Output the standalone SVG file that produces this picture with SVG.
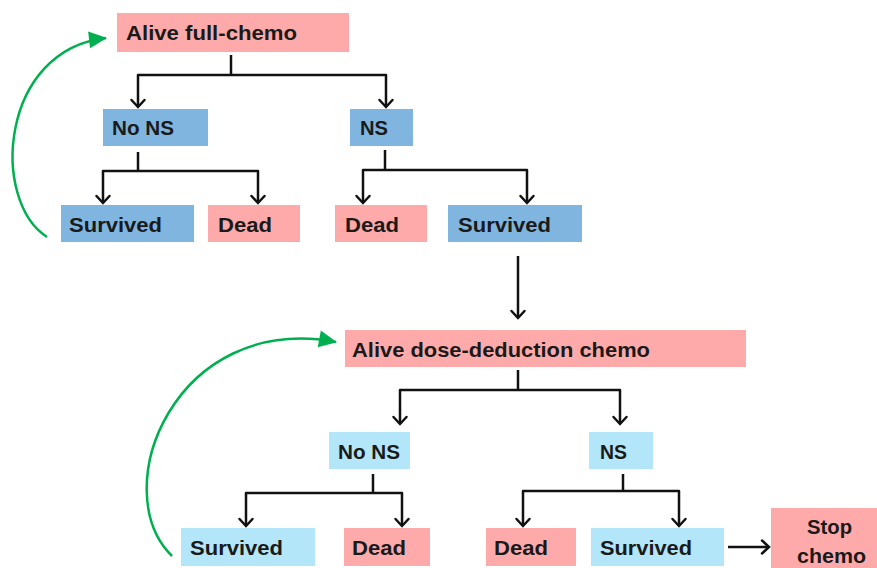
<svg xmlns="http://www.w3.org/2000/svg" width="877" height="568" viewBox="0 0 877 568">
<style>
.pink{fill:#FFAAAA}
.blue{fill:#7FB5DF}
.lblue{fill:#B2E6F8}
text{font-family:"Liberation Sans",Arial,sans-serif;font-weight:bold;font-size:21px;fill:#1a1a1a}
.c{fill:none;stroke:#111;stroke-width:2.5;stroke-linejoin:round}
.g{fill:none;stroke:#00B050;stroke-width:2.5}
</style>
<defs>
<marker id="ah" markerUnits="userSpaceOnUse" markerWidth="20" markerHeight="20" viewBox="-10 -10 20 20" refX="0" refY="0" orient="auto" overflow="visible">
<path d="M-7,-6.5 L0,0 L-7,6.5" fill="none" stroke="#111" stroke-width="2.5" stroke-linejoin="miter" stroke-linecap="round"/>
</marker>
<marker id="gh" markerUnits="userSpaceOnUse" markerWidth="30" markerHeight="30" viewBox="-20 -15 30 30" refX="0" refY="0" orient="auto" overflow="visible">
<path d="M-17,-8.5 L1,0 L-17,8.5 Z" fill="#00B050"/>
</marker>
</defs>
<rect width="877" height="568" fill="#fff"/>

<g id="connectors">
<path class="c" d="M231,55 V75"/>
<path class="c" d="M231,75 H138 V107" marker-end="url(#ah)"/>
<path class="c" d="M231,75 H386 V107" marker-end="url(#ah)"/>
<path class="c" d="M138,152 V171"/>
<path class="c" d="M138,171 H103 V203" marker-end="url(#ah)"/>
<path class="c" d="M138,171 H258 V203" marker-end="url(#ah)"/>
<path class="c" d="M385,150 V170"/>
<path class="c" d="M385,170 H363 V203" marker-end="url(#ah)"/>
<path class="c" d="M385,170 H527 V203" marker-end="url(#ah)"/>
<path class="c" d="M518,256 V318" marker-end="url(#ah)"/>
<path class="c" d="M518,370 V390"/>
<path class="c" d="M518,390 H400 V424" marker-end="url(#ah)"/>
<path class="c" d="M518,390 H620 V424" marker-end="url(#ah)"/>
<path class="c" d="M373,474 V493"/>
<path class="c" d="M373,493 H246 V526" marker-end="url(#ah)"/>
<path class="c" d="M373,493 H402 V526" marker-end="url(#ah)"/>
<path class="c" d="M623,474 V491"/>
<path class="c" d="M623,491 H523 V526" marker-end="url(#ah)"/>
<path class="c" d="M623,491 H679 V526" marker-end="url(#ah)"/>
<path class="c" d="M728,547 H769" marker-end="url(#ah)"/>
<path class="g" d="M47,237 C-10,200 0,50 106,38" marker-end="url(#gh)"/>
<path class="g" d="M172,556 C105,490 175,312 336,342" marker-end="url(#gh)"/>
</g>

<g id="alive-full">
<rect class="pink" x="117" y="13" width="232" height="39"/>
<text x="126" y="40" textLength="171" lengthAdjust="spacingAndGlyphs">Alive full-chemo</text>
</g>
<g id="no-ns-1">
<rect class="blue" x="103" y="109" width="105" height="37"/>
<text x="112" y="135" textLength="62" lengthAdjust="spacingAndGlyphs">No NS</text>
</g>
<g id="ns-1">
<rect class="blue" x="350" y="109" width="63" height="37"/>
<text x="360" y="135" textLength="28" lengthAdjust="spacingAndGlyphs">NS</text>
</g>
<g id="survived-1a">
<rect class="blue" x="61" y="205" width="133" height="37"/>
<text x="69" y="232" textLength="93" lengthAdjust="spacingAndGlyphs">Survived</text>
</g>
<g id="dead-1a">
<rect class="pink" x="208" y="205" width="92" height="37"/>
<text x="218" y="232" textLength="54" lengthAdjust="spacingAndGlyphs">Dead</text>
</g>
<g id="dead-1b">
<rect class="pink" x="335" y="205" width="92" height="37"/>
<text x="345" y="232" textLength="54" lengthAdjust="spacingAndGlyphs">Dead</text>
</g>
<g id="survived-1b">
<rect class="blue" x="448" y="205" width="134" height="37"/>
<text x="458" y="232" textLength="93" lengthAdjust="spacingAndGlyphs">Survived</text>
</g>
<g id="alive-dose">
<rect class="pink" x="345" y="330" width="401" height="37"/>
<text x="352" y="357" textLength="298" lengthAdjust="spacingAndGlyphs">Alive dose-deduction chemo</text>
</g>
<g id="no-ns-2">
<rect class="lblue" x="329" y="432" width="81" height="37"/>
<text x="338" y="459" textLength="62" lengthAdjust="spacingAndGlyphs">No NS</text>
</g>
<g id="ns-2">
<rect class="lblue" x="589" y="432" width="64" height="37"/>
<text x="600" y="459" textLength="27" lengthAdjust="spacingAndGlyphs">NS</text>
</g>
<g id="survived-2a">
<rect class="lblue" x="181" y="528" width="134" height="38"/>
<text x="190" y="555" textLength="93" lengthAdjust="spacingAndGlyphs">Survived</text>
</g>
<g id="dead-2a">
<rect class="pink" x="344" y="528" width="86" height="38"/>
<text x="352" y="555" textLength="54" lengthAdjust="spacingAndGlyphs">Dead</text>
</g>
<g id="dead-2b">
<rect class="pink" x="486" y="528" width="90" height="38"/>
<text x="494" y="555" textLength="54" lengthAdjust="spacingAndGlyphs">Dead</text>
</g>
<g id="survived-2b">
<rect class="lblue" x="591" y="528" width="133" height="38"/>
<text x="600" y="555" textLength="92" lengthAdjust="spacingAndGlyphs">Survived</text>
</g>
<g id="stop-chemo">
<rect class="pink" x="771" y="508" width="106" height="60"/>
<text x="807" y="534" textLength="45" lengthAdjust="spacingAndGlyphs">Stop</text>
<text x="797" y="563" textLength="69" lengthAdjust="spacingAndGlyphs">chemo</text>
</g>
</svg>
